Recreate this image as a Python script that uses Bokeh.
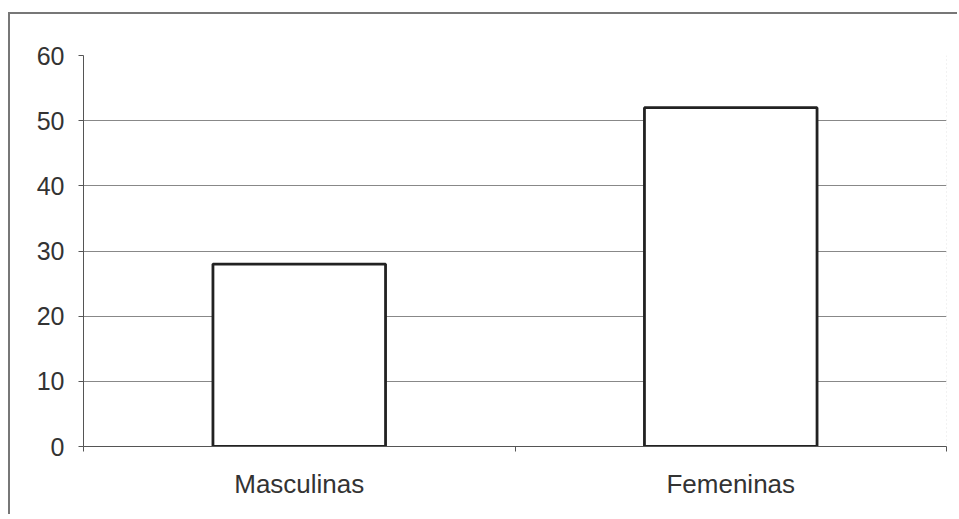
from bokeh.plotting import figure
from bokeh.models import FixedTicker, Range1d, Span, ColumnDataSource
from bokeh.embed import file_html
from bokeh.resources import INLINE

categories = ["Masculinas", "Femeninas"]
values = [28, 52]
y_ticks = [0, 10, 20, 30, 40, 50, 60]
grid_ticks = [10, 20, 30, 40, 50]

xpos = [i + 0.5 for i in range(len(categories))]
src = ColumnDataSource(dict(x=xpos, top=values, cat=categories))

p = figure(
    output_backend="svg", toolbar_location=None,
    frame_width=863, frame_height=391,
    min_border_left=73, min_border_top=41, min_border_right=11, min_border_bottom=68,
    x_range=Range1d(0, len(categories)), y_range=Range1d(0, 60),
    styles={"border-left": "2px solid #777777", "border-top": "2px solid #777777",
            "margin-top": "12px", "margin-left": "8px"},
)
p.outline_line_color = None
p.background_fill_color = "white"
p.border_fill_color = "white"

p.vbar(x="x", top="top", bottom=0, width=0.4, source=src,
       fill_color="white", line_color="#222222", line_width=2.8)

# y axis
p.yaxis.ticker = FixedTicker(ticks=y_ticks, minor_ticks=[])
p.yaxis.axis_line_color = "#555555"
p.yaxis.axis_line_width = 1
p.yaxis.major_tick_line_color = "#555555"
p.yaxis.major_tick_out = 5
p.yaxis.major_tick_in = 0
p.yaxis.minor_tick_line_color = None
p.yaxis.major_label_text_font = "Liberation Sans"
p.yaxis.major_label_text_font_size = "25px"
p.yaxis.major_label_text_color = "#333333"
p.yaxis.major_label_standoff = 14

# x axis: labels at category centres, ticks at category boundaries
p.xaxis.ticker = FixedTicker(ticks=xpos, minor_ticks=list(range(len(categories) + 1)))
p.xaxis.major_label_overrides = {x: c for x, c in zip(xpos, categories)}
p.xaxis.major_tick_line_color = None
p.xaxis.minor_tick_line_color = "#555555"
p.xaxis.minor_tick_out = 5
p.xaxis.minor_tick_in = 0
p.xaxis.axis_line_color = "#555555"
p.xaxis.axis_line_width = 1
p.xaxis.major_label_text_font = "Liberation Sans"
p.xaxis.major_label_text_font_size = "26px"
p.xaxis.major_label_text_color = "#333333"
p.xaxis.major_label_standoff = 16

p.xgrid.grid_line_color = None
p.ygrid.ticker = FixedTicker(ticks=grid_ticks, minor_ticks=[])
p.ygrid.grid_line_color = "#888888"
p.ygrid.grid_line_width = 1

p.add_layout(Span(location=len(categories), dimension="height",
                  line_color="#cccccc", line_dash="1 3", line_width=1))

open("out.html", "w").write(file_html(p, INLINE))
